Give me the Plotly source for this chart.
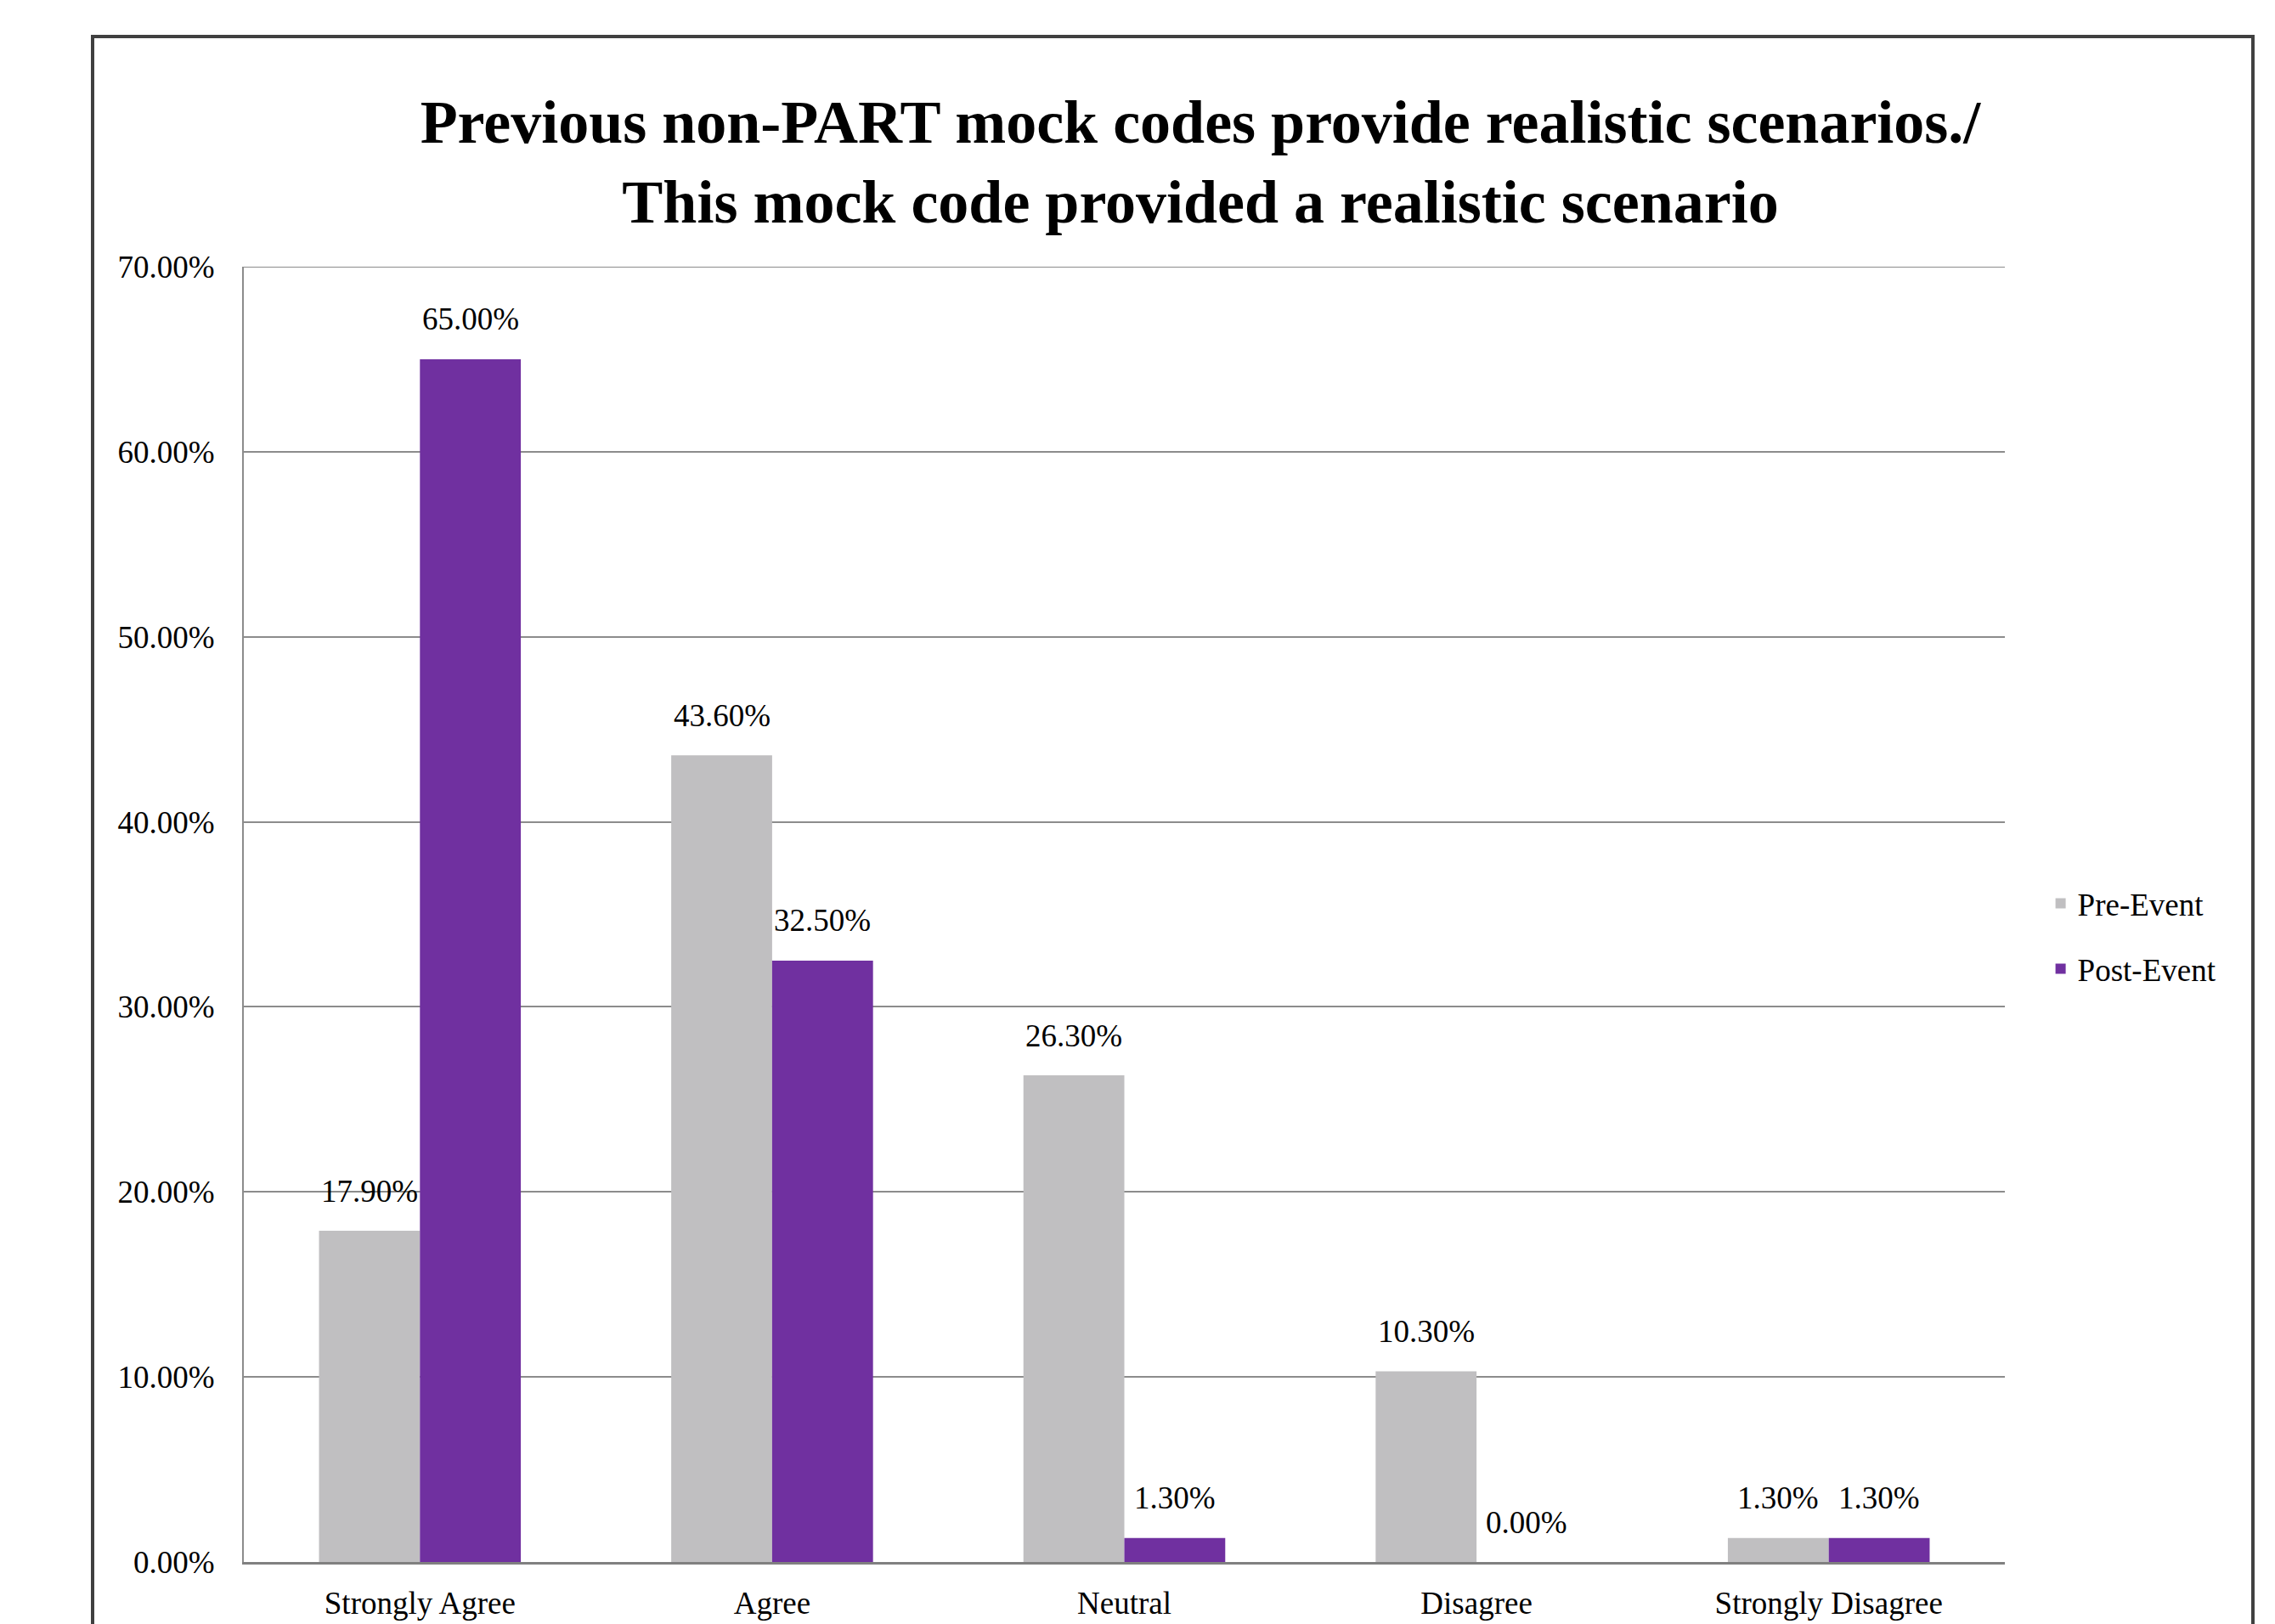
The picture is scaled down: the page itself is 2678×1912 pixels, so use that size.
import plotly.graph_objects as go

# Survey responses (percent of respondents)
categories = ["Strongly Agree", "Agree", "Neutral", "Disagree", "Strongly Disagree"]
pre_event = [17.9, 43.6, 26.3, 10.3, 1.3]
post_event = [65.0, 32.5, 1.3, 0.0, 1.3]
series_names = ["Pre-Event", "Post-Event"]
y_ticks = [0, 10, 20, 30, 40, 50, 60, 70]

title_lines = [
    "Previous non-PART mock codes provide realistic scenarios./",
    "This mock code provided a realistic scenario",
]

W, H = 2678, 1912
FONT = "Liberation Serif"
GRAY = "#C0BFC1"
PURPLE = "#7030A0"
GRID = "#8C8C8C"

margin = dict(l=287, r=318, t=314, b=73)
plot_w = W - margin["l"] - margin["r"]
plot_h = H - margin["t"] - margin["b"]

bargap = 0.427
bar_px = plot_w / len(categories) * (1 - bargap) / 2

fig = go.Figure()
for i, (name, vals, color) in enumerate(
    [(series_names[0], pre_event, GRAY), (series_names[1], post_event, PURPLE)]
):
    fig.add_trace(
        go.Bar(
            x=categories,
            y=vals,
            name=name,
            legendgroup=name,
            marker=dict(color=color, line=dict(width=0)),
        )
    )
    # value labels above each bar
    shift = (-0.5 if i == 0 else 0.5) * bar_px
    for c, v in zip(categories, vals):
        fig.add_annotation(
            x=c, y=v, xref="x", yref="y",
            text=f"{v:.2f}%",
            showarrow=False,
            xshift=shift, yshift=47,
            yanchor="middle",
            font=dict(family=FONT, size=37, color="#000000"),
        )

# top gridline at the upper end of the value range
fig.add_shape(
    type="line", xref="paper", yref="y",
    x0=0, x1=1, y0=y_ticks[-1], y1=y_ticks[-1],
    line=dict(color=GRID, width=2),
    layer="below",
)

# outer chart border
fig.add_shape(
    type="rect", xref="paper", yref="paper",
    x0=(109 - margin["l"]) / plot_w,
    x1=(2652 - margin["l"]) / plot_w,
    y0=-0.2,
    y1=(H - margin["b"] - 43) / plot_h,
    line=dict(color="#404040", width=4),
    fillcolor="rgba(0,0,0,0)",
    layer="below",
)

fig.update_layout(
    width=W, height=H,
    margin=margin,
    paper_bgcolor="white",
    plot_bgcolor="white",
    barmode="group",
    bargap=bargap,
    bargroupgap=0,
    font=dict(family=FONT, size=37, color="#000000"),
    title=dict(
        text="<br>".join(title_lines),
        x=1413 / W, xanchor="center", xref="container",
        y=1 - 168 / H, yanchor="top", yref="container",
        font=dict(family=FONT, size=72, color="#000000", weight="bold"),
    ),
    legend=dict(
        x=1.022, y=0.483, xanchor="left", yanchor="middle",
        font=dict(family=FONT, size=37, color="#000000"),
        tracegroupgap=26,
        bgcolor="rgba(0,0,0,0)",
    ),
    showlegend=True,
)

fig.update_yaxes(
    range=[0, 70],
    tickvals=y_ticks,
    ticktext=[f"{t:.2f}%" for t in y_ticks],
    showgrid=True, gridcolor=GRID, gridwidth=2,
    showline=True, linecolor=GRID, linewidth=2,
    zeroline=False,
    ticks="", ticklabelstandoff=25,
    automargin=False,
    tickfont=dict(family=FONT, size=37, color="#000000"),
)
fig.update_xaxes(
    showline=True, linecolor="#808080", linewidth=3,
    ticks="", ticklabelstandoff=14,
    automargin=False,
    tickfont=dict(family=FONT, size=37, color="#000000"),
)

fig.write_html("out.html")
